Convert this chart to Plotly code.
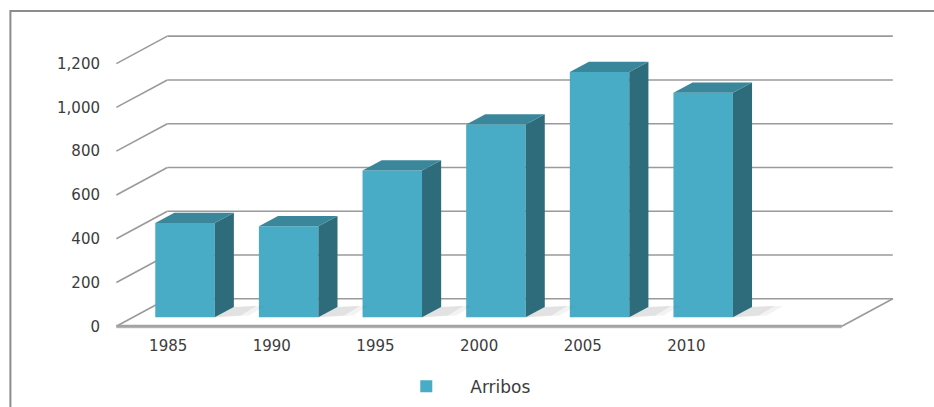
import plotly.graph_objects as go

# ---------------- data ----------------
years = ["1985", "1990", "1995", "2000", "2005", "2010"]
arribos = [430, 415, 670, 880, 1120, 1025]
y_tick_vals = [0, 200, 400, 600, 800, 1000, 1200]
series_name = "Arribos"

# ---------------- styling / geometry ----------------
W, H = 934, 407
N_SLOTS = 7              # category slots on the floor (last one empty)
PX_CAT = 103.67          # pixels per category unit
PX_VAL = 0.219           # pixels per value unit
FRONT_X0_PX = 116.0      # pixel x of the front-left floor corner
FRONT_Y0_PX = 326.5      # pixel y of the front floor edge (value 0)
DEPTH_X = 0.492          # floor depth, in category units
DEPTH_V = 125.5          # floor depth, in value units
T0, T1 = 0.33, 0.705     # bar front / back depth fraction
BAR_W = 0.574            # bar width, in category units

X_RANGE = [-0.6, 7.1]
Y_RANGE = [-40, 1340]

FRONT = "#48acc7"
TOP = "#3a879b"
SIDE = "#2f6c7b"
GRID = "#9a9a9a"
TEXT = "#3c3c3c"
FONT = "DejaVu Sans"

left_px = FRONT_X0_PX + (X_RANGE[0] + 0.5) * PX_CAT
right_px = FRONT_X0_PX + (X_RANGE[1] + 0.5) * PX_CAT
bottom_px = FRONT_Y0_PX - Y_RANGE[0] * PX_VAL
top_px = FRONT_Y0_PX - Y_RANGE[1] * PX_VAL
plot_w = right_px - left_px
plot_h = bottom_px - top_px


def px_to_paper(px, py):
    return (px - left_px) / plot_w, (bottom_px - py) / plot_h


def proj(c, v, t):
    """oblique projection: category c, value v, depth fraction t"""
    return c + t * DEPTH_X, v + t * DEPTH_V


fig = go.Figure()
shapes = []

# walls: gridlines (left diagonal + back horizontal)
cx0, cx1 = -0.5, N_SLOTS - 0.5
for g in y_tick_vals:
    ax, ay = proj(cx0, g, 0)
    bx, by = proj(cx0, g, 1)
    ex, ey = proj(cx1, g, 1)
    shapes.append(dict(type="line", xref="x", yref="y", x0=ax, y0=ay, x1=bx, y1=by,
                       line=dict(color=GRID, width=1.6), layer="below"))
    shapes.append(dict(type="line", xref="x", yref="y", x0=bx, y0=by, x1=ex, y1=ey,
                       line=dict(color=GRID, width=1.6), layer="below"))

# floor: front edge and right edge
fx0, fy0 = proj(cx0, 0, 0)
fx1, fy1 = proj(cx1, 0, 0)
rx1, ry1 = proj(cx1, 0, 1)
shapes.append(dict(type="line", xref="x", yref="y", x0=fx0, y0=fy0 - 6, x1=fx1, y1=fy1 - 6,
                   line=dict(color="#e2e2e2", width=2), layer="below"))
shapes.append(dict(type="line", xref="x", yref="y", x0=fx0, y0=fy0, x1=fx1, y1=fy1,
                   line=dict(color="#a3a3a3", width=3), layer="below"))
shapes.append(dict(type="line", xref="x", yref="y", x0=fx1, y0=fy1, x1=rx1, y1=ry1,
                   line=dict(color=GRID, width=1.6), layer="below"))

# outer frame (cut off at right / bottom in the reference)
p0 = px_to_paper(10, 11)
p1 = px_to_paper(W + 20, H + 20)
shapes.append(dict(type="rect", xref="paper", yref="paper", x0=p0[0], y0=p1[1], x1=p1[0], y1=p0[1],
                   line=dict(color="#8c8c8c", width=2), fillcolor="rgba(0,0,0,0)", layer="below"))

# soft shadows on the floor
for i, v in enumerate(arribos):
    cxl = i - BAR_W / 2
    cxr = i + BAR_W / 2
    for grow, alpha in ((0.0, 0.10), (0.08, 0.07)):
        pts = [proj(cxr, 0, T0), proj(cxr + 0.22 + grow, 0, T0 + 0.06),
               proj(cxr + 0.2 + grow, 0, T1 + 0.04), proj(cxr, 0, T1)]
        xs = [p[0] for p in pts] + [pts[0][0]]
        ys = [p[1] for p in pts] + [pts[0][1]]
        fig.add_trace(go.Scatter(x=xs, y=ys, mode="lines", fill="toself",
                                 fillcolor="rgba(80,80,80,%.2f)" % alpha, line=dict(width=0),
                                 hoverinfo="skip", showlegend=False))
    pts = [proj(cxl - 0.04, 0, T0 - 0.015), proj(cxr, 0, T0 - 0.015), proj(cxr, 0, T0),
           proj(cxl, 0, T0)]
    xs = [p[0] for p in pts] + [pts[0][0]]
    ys = [p[1] for p in pts] + [pts[0][1]]
    fig.add_trace(go.Scatter(x=xs, y=ys, mode="lines", fill="toself",
                             fillcolor="rgba(80,80,80,0.08)", line=dict(width=0),
                             hoverinfo="skip", showlegend=False))

# bar front faces (library bars, offset to the bar's depth)
bx_off, bv_off = proj(0, 0, T0)
fig.add_trace(go.Bar(
    x=[i + bx_off for i in range(len(years))], y=arribos, base=bv_off, width=BAR_W,
    marker=dict(color=FRONT, line=dict(width=0)), name=series_name, showlegend=True,
    hovertext=years, hoverinfo="text+y"))

# bar side and top faces
for i, v in enumerate(arribos):
    cxl = i - BAR_W / 2
    cxr = i + BAR_W / 2
    side = [proj(cxr, v, T0), proj(cxr, v, T1), proj(cxr, 0, T1), proj(cxr, 0, T0)]
    top = [proj(cxl, v, T0), proj(cxl, v, T1), proj(cxr, v, T1), proj(cxr, v, T0)]
    for poly, col in ((side, SIDE), (top, TOP)):
        xs = [p[0] for p in poly] + [poly[0][0]]
        ys = [p[1] for p in poly] + [poly[0][1]]
        fig.add_trace(go.Scatter(x=xs, y=ys, mode="lines", fill="toself", fillcolor=col,
                                 line=dict(width=0, color=col), hoverinfo="skip",
                                 showlegend=False))

LEG_ITEMWIDTH = 78
leg_x, leg_y = px_to_paper(382, 387)

fig.update_layout(
    width=W, height=H,
    margin=dict(l=left_px, r=W - right_px, t=top_px, b=H - bottom_px, pad=0,
                autoexpand=False),
    paper_bgcolor="white", plot_bgcolor="white",
    shapes=shapes,
    font=dict(family=FONT, size=15, color=TEXT),
    xaxis=dict(range=X_RANGE, tickvals=list(range(len(years))), ticktext=years,
               showgrid=False, zeroline=False, showline=False, ticks="",
               ticklabelstandoff=0, automargin=False,
               tickfont=dict(family=FONT, size=15, color=TEXT), fixedrange=True),
    yaxis=dict(range=Y_RANGE, tickvals=y_tick_vals, tickformat=",",
               showgrid=False, zeroline=False, showline=False, ticks="",
               ticklabelstandoff=5, automargin=False,
               tickfont=dict(family=FONT, size=15, color=TEXT), fixedrange=True),
    legend=dict(orientation="h", x=leg_x, y=leg_y, xanchor="left", yanchor="middle",
                font=dict(family=FONT, size=17, color=TEXT), itemwidth=LEG_ITEMWIDTH,
                bgcolor="rgba(0,0,0,0)"),
    showlegend=True,
)

fig.write_html("out.html", config={"displayModeBar": False},
               post_script="document.body.style.margin='0';")
